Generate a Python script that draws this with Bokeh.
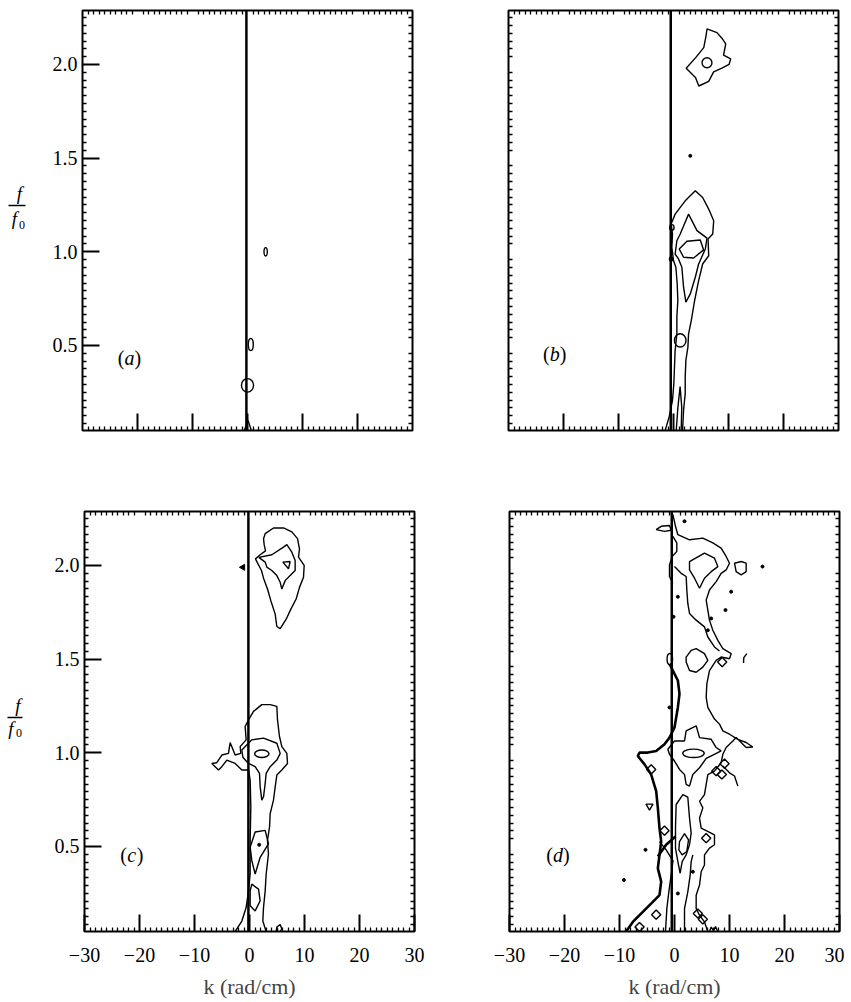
import math
from bokeh.plotting import figure
from bokeh.models import FixedTicker, LinearAxis, Range1d, Span
from bokeh.layouts import column, row
from bokeh.embed import file_html
from bokeh.resources import INLINE
from bokeh.core.properties import value

# ---------------- axes / ticks ----------------
K_RANGE = (-30, 30)
F_RANGE = (0.046, 2.288)
K_MAJOR = [-30, -20, -10, 0, 10, 20, 30]
K_LABELS = ["\u221230", "\u221220", "\u221210", "0", "10", "20", "30"]
K_MAJOR_INNER = [-20, -10, 0, 10, 20]
K_MINOR = [k for k in range(-29, 30) if k % 10 != 0]
F_MAJOR = [0.5, 1.0, 1.5, 2.0]
F_LABELS = ["0.5", "1.0", "1.5", "2.0"]
F_MINOR = [i / 24 for i in range(2, 55) if i % 12 != 0]
X_LABEL = "k (rad/cm)"
PANEL_NAMES = ["a", "b", "c", "d"]
LINE_K = [-0.2, -0.5, -0.2, -0.5]

# ---------------- panel (a) ----------------
A_ELL_K = [3.3, 0.6, 0.0]
A_ELL_F = [1.0, 0.505, 0.287]
A_ELL_W = [0.6, 0.9, 2.2]
A_ELL_H = [0.045, 0.065, 0.072]
A_OPEN_K = [[-0.6, 0.1, 0.7]]
A_OPEN_F = [[0.046, 0.10, 0.046]]

# ---------------- panel (b) ----------------
B_LOOPS_K = [
    [6.1, 7.9, 8.8, 9.5, 9.1, 10.4, 10.1, 8.8, 7.3, 6.4, 4.6, 4.0, 2.3, 4.0, 5.5, 5.9],
    [1.22, 2.74, 4.27, 6.09, 5.79, 4.57, 3.96, 3.05, 2.25, 1.83, 1.52, 0.91, 0.30, 0.61],
    [1.04, 2.44, 4.87, 5.48, 3.66, 1.83],
]
B_LOOPS_F = [
    [2.19, 2.17, 2.14, 2.11, 2.05, 2.03, 2.0, 1.98, 1.96, 1.91, 1.885, 1.93, 1.98, 2.035, 2.09, 2.15],
    [1.095, 1.201, 1.113, 1.073, 1.015, 0.935, 0.864, 0.775, 0.731, 0.811, 0.917, 0.962, 0.988, 1.059],
    [1.015, 1.056, 1.063, 1.010, 0.967, 0.971],
]
B_OPEN_K = [
    [-1.52, -0.79, -0.18, 0.06, 0.18, 0.30, 0.61, 0.61, 0.79, 0.67, 0.43, 0.0, -0.30, -0.18, -0.43,
     0.30, 2.13, 3.96, 5.30, 6.40, 7.31, 7.13, 6.28, 6.40, 5.30, 4.57, 3.84, 3.23, 2.74, 2.62,
     2.25, 2.13, 2.13, 1.83, 1.65],
    [0.5, 0.8, 1.2, 1.5, 1.4],
]
B_OPEN_F = [
    [0.046, 0.119, 0.207, 0.296, 0.385, 0.474, 0.562, 0.651, 0.740, 0.829, 0.917, 0.953, 1.024, 1.095,
     1.148, 1.201, 1.272, 1.326, 1.290, 1.228, 1.166, 1.095, 1.068, 0.979, 0.935, 0.846, 0.740, 0.633,
     0.562, 0.491, 0.420, 0.332, 0.243, 0.154, 0.046],
    [0.046, 0.17, 0.28, 0.17, 0.046],
]
B_ELL_K = [6.09, 1.22, -0.3, -0.43]
B_ELL_F = [2.009, 0.527, 1.13, 0.962]
B_ELL_W = [1.8, 2.1, 0.8, 0.6]
B_ELL_H = [0.053, 0.071, 0.03, 0.022]
B_DOT_K = [3.05]
B_DOT_F = [1.512]

# ---------------- panel (c) ----------------
C_LOOPS_K = [
    [2.85, 4.36, 6.18, 7.70, 8.73, 9.09, 8.91, 9.94, 9.82, 9.09, 8.48, 7.52, 6.67, 5.58, 4.97, 4.67,
     3.88, 3.27, 2.55, 2.18, 1.45, 1.09, 1.94, 2.91, 2.67, 2.55],
    [1.70, 4.06, 6.18, 6.79, 7.70, 8.30, 8.30, 7.39, 6.48, 5.88, 5.58, 4.97, 4.06, 3.15, 2.85],
    [6.06, 7.39, 7.09],
    [-1.39, 0.42, 2.55, 4.97, 5.58, 4.97, 3.76, 3.03, 2.85, 2.55, 2.24, 1.94, 1.82, 1.03, -0.18, -1.21],
    [0.12, 1.03, 2.85, 3.45, 1.94, 1.03, 0.42],
    [0.42, 1.64, 1.94, 1.03, 0.12, 0.12],
]
C_LOOPS_F = [
    [2.170, 2.200, 2.200, 2.179, 2.143, 2.089, 2.044, 2.0, 1.937, 1.883, 1.821, 1.767, 1.713, 1.663,
     1.674, 1.740, 1.812, 1.874, 1.932, 1.973, 2.014, 2.035, 2.057, 2.078, 2.111, 2.143],
    [2.043, 2.057, 2.098, 2.111, 2.071, 2.026, 1.973, 1.946, 1.919, 1.874, 1.910, 1.946, 1.973, 1.991, 2.018],
    [2.018, 2.021, 1.982],
    [1.015, 1.069, 1.078, 1.051, 0.997, 0.961, 0.926, 0.890, 0.836, 0.765, 0.747, 0.818, 0.890, 0.926, 0.943, 0.976],
    [0.496, 0.577, 0.586, 0.514, 0.442, 0.353, 0.424],
    [0.299, 0.272, 0.210, 0.156, 0.183, 0.263],
]
C_OPEN_K = [
    [-2.61, -1.39, -0.61, -0.18, 0.12, 0.12, 0.24, 0.12, -0.18, -1.39, -2.61, -4.12, -5.03, -5.64,
     -6.85, -5.94, -5.03, -3.82, -3.52, -2.61, -1.58, -1.70, -0.61, -0.79, -0.18, 0.73, 2.24, 3.76,
     4.97, 5.09, 5.45, 5.88, 6.79, 6.91, 5.88, 4.97, 4.67, 4.36, 3.76, 3.64, 3.27, 3.45, 3.03, 2.85,
     2.55, 2.42, 3.03],
    [4.85, 4.97, 5.58, 5.88, 5.58],
]
C_OPEN_F = [
    [0.046, 0.102, 0.174, 0.263, 0.353, 0.532, 0.711, 0.854, 0.908, 0.908, 0.943, 0.961, 0.926, 0.908,
     0.943, 0.947, 0.988, 0.997, 1.055, 0.988, 0.997, 1.033, 1.069, 1.140, 1.176, 1.221, 1.257, 1.257,
     1.248, 1.176, 1.087, 1.033, 0.997, 0.943, 0.908, 0.881, 0.818, 0.747, 0.675, 0.603, 0.532, 0.460,
     0.353, 0.263, 0.174, 0.102, 0.046],
    [0.046, 0.070, 0.083, 0.060, 0.046],
]
C_ELL_K = [2.24]
C_ELL_F = [0.995]
C_ELL_W = [2.6]
C_ELL_H = [0.04]
C_TRI_K = [-1.2]
C_TRI_F = [1.99]
C_DOT_K = [1.76]
C_DOT_F = [0.509]

# ---------------- panel (d) ----------------
D_BOLD_K = [
    [-8.79, -7.58, -5.76, -3.94, -2.73, -2.42, -3.03, -2.73, -2.42, -2.73, -3.03, -3.33, -4.24, -5.45,
     -6.67, -6.36, -4.85, -3.33, -1.82, -0.91, 0.0, 0.61, 0.91, 0.61, -0.30, -0.91],
    [-3.03, -1.52, 0.18],
]
D_BOLD_F = [
    [0.046, 0.097, 0.151, 0.204, 0.240, 0.312, 0.383, 0.455, 0.526, 0.598, 0.706, 0.795, 0.884, 0.938,
     0.983, 1.001, 1.001, 1.010, 1.046, 1.081, 1.135, 1.242, 1.314, 1.386, 1.439, 1.475],
    [0.446, 0.509, 0.553],
]
D_OPEN_K = [
    [-0.30, 0.18, 0.61, 2.73, 5.15, 6.97, 8.48, 9.39, 10.0, 9.39, 8.48, 7.58, 6.36, 5.76, 6.06, 6.36,
     6.97, 7.88, 8.79, 10.30, 10.0, 8.48, 7.58, 6.36, 5.88, 5.76, 6.06, 7.27, 8.18, 8.79, 10.0, 11.52,
     13.03, 14.24, 13.03, 12.12, 11.21, 10.61, 9.39, 8.79, 8.48, 7.27, 6.06, 5.76, 5.45, 4.55, 5.15,
     4.55, 4.85, 5.76, 7.27, 7.27, 6.36, 5.45, 5.45, 4.85, 4.55, 3.94, 3.94, 4.55, 5.45, 6.06],
    [0.0, 1.21, 2.12, 2.24, 2.42, 2.73, 3.94, 5.45, 6.06, 7.27, 8.18],
    [-0.30, 0.42, 0.42, -0.42, -0.91, -0.91, -0.30],
    [-1.64, -1.39, -1.03, -0.61, -0.30],
    [1.82, 1.82, 2.42, 2.85, 3.03, 3.33],
    [-2.73, -1.52, -0.18],
    [13.15, 12.6, 12.55],
    [8.79, 10.0, 10.91, 11.52],
    [6.36, 6.67, 7.09, 7.45, 7.88],
]
D_OPEN_F = [
    [2.272, 2.209, 2.164, 2.137, 2.146, 2.120, 2.093, 2.048, 2.012, 1.976, 1.958, 1.914, 1.869, 1.815,
     1.762, 1.708, 1.654, 1.600, 1.556, 1.529, 1.502, 1.511, 1.493, 1.439, 1.368, 1.296, 1.242, 1.180,
     1.153, 1.117, 1.099, 1.072, 1.055, 1.031, 1.028, 1.055, 1.081, 1.063, 1.028, 0.992, 0.947, 0.902,
     0.884, 0.831, 0.777, 0.741, 0.706, 0.652, 0.598, 0.584, 0.562, 0.509, 0.491, 0.455, 0.401, 0.365,
     0.294, 0.240, 0.168, 0.133, 0.097, 0.046],
    [1.994, 1.958, 1.941, 1.869, 1.797, 1.744, 1.708, 1.672, 1.618, 1.565, 1.543],
    [2.155, 2.120, 2.075, 2.048, 2.003, 1.941, 1.905],
    [0.046, 0.168, 0.258, 0.347, 0.419],
    [0.046, 0.168, 0.258, 0.347, 0.419, 0.455],
    [0.526, 0.482, 0.419],
    [1.529, 1.508, 1.479],
    [0.929, 0.893, 0.876, 0.822],
    [0.046, 0.07, 0.05, 0.072, 0.046],
]
D_LOOPS_K = [
    [-3.33, -2.42, -0.91, -0.61, -1.82],
    [2.73, 5.45, 7.27, 7.88, 6.67, 5.45, 4.55, 3.64, 2.73],
    [10.91, 12.12, 13.03, 13.03, 12.12, 11.21],
    [2.12, 3.03, 3.94, 5.45, 6.06, 5.15, 3.94, 2.73, 2.12],
    [1.82, 2.12, 3.94, 4.55, 6.67, 7.58, 8.48, 6.97, 5.76, 4.55, 3.33, 2.73, 2.12, 1.82, 0.91, 0.0, -0.91, -1.21, 0.0],
    [0.30, 1.52, 2.42, 2.73, 3.03, 2.73, 2.12, 1.39, 1.03, 0.61, 0.18, 0.18],
    [0.91, 1.82, 2.55, 2.24, 1.39, 0.79],
]
D_LOOPS_F = [
    [2.191, 2.209, 2.213, 2.188, 2.182],
    [2.021, 2.066, 2.039, 1.994, 1.967, 1.932, 1.878, 1.932, 1.976],
    [2.012, 2.021, 2.012, 1.967, 1.950, 1.967],
    [1.511, 1.547, 1.556, 1.529, 1.493, 1.457, 1.430, 1.439, 1.484],
    [1.063, 1.117, 1.144, 1.081, 1.072, 1.028, 1.010, 0.988, 0.970, 0.920, 0.884, 0.822, 0.831, 0.884,
     0.911, 0.956, 0.992, 1.019, 1.063],
    [0.724, 0.777, 0.763, 0.652, 0.571, 0.509, 0.455, 0.419, 0.357, 0.419, 0.491, 0.598],
    [0.526, 0.568, 0.535, 0.473, 0.455, 0.482],
]
D_ELL_K = [-0.85, 3.45]
D_ELL_F = [1.50, 0.997]
D_ELL_W = [1.0, 3.9]
D_ELL_H = [0.06, 0.045]
D_DIAM_K = [-4.24, -1.82, 5.76, -3.33, 4.24, 5.15, -6.36, 7.58, 8.61, 9.09, 8.67]
D_DIAM_F = [0.911, 0.584, 0.544, 0.136, 0.142, 0.111, 0.070, 0.902, 0.884, 0.942, 1.484]
D_TRI_K = [-4.55]
D_TRI_F = [0.715]
D_DOT_K = [1.82, 10.30, 0.61, -0.18, 6.67, 9.27, 6.06, -0.91, -5.27, -9.21, 0.61, 3.33, 16.0]
D_DOT_F = [2.236, 1.860, 1.833, 1.726, 1.717, 1.762, 1.654, 1.242, 0.482, 0.321, 0.249, 0.365, 1.994]

# ---------------- styling ----------------
SERIF = "Liberation Serif"
TICK_FONT = "20px"
LW = 1.4
LABEL_W = 40     # width of the strip that carries the f/f0 label
FRAME_W, FRAME_H = 330, 420
TOP_BORDERS = (10, 40)       # top row: border above / below frame
BOT_BORDERS = (41, 69)       # bottom row


def style_axis(ax, major_in):
    ax.axis_line_color = None
    ax.major_tick_in = major_in
    ax.major_tick_out = 0
    ax.minor_tick_in = 4
    ax.minor_tick_out = 0
    ax.major_tick_line_color = "black"
    ax.major_tick_line_width = 2
    ax.minor_tick_line_color = "black"
    ax.minor_tick_line_width = 1.3
    ax.major_label_text_font = SERIF
    ax.major_label_text_font_size = TICK_FONT
    ax.major_label_text_color = "black"


def make_panel(idx, left_labels, bottom_labels, bl, br, bt, bb):
    p = figure(frame_width=FRAME_W, frame_height=FRAME_H,
               x_range=Range1d(*K_RANGE), y_range=Range1d(*F_RANGE),
               x_axis_location=None, y_axis_location=None,
               output_backend="svg", toolbar_location=None,
               min_border_left=bl, min_border_right=br,
               min_border_top=bt, min_border_bottom=bb)
    p.grid.grid_line_color = None
    p.outline_line_color = "black"
    p.outline_line_width = 2
    p.background_fill_color = "white"
    p.border_fill_color = "white"

    if bottom_labels:
        bx = LinearAxis(ticker=FixedTicker(ticks=K_MAJOR, minor_ticks=K_MINOR))
        style_axis(bx, 17)
        bx.major_label_overrides = dict(zip(K_MAJOR, K_LABELS))
        bx.major_label_standoff = 16
        bx.axis_label = X_LABEL
        bx.axis_label_text_font = SERIF
        bx.axis_label_text_font_style = "normal"
        bx.axis_label_text_font_size = "22px"
        bx.axis_label_standoff = 9
    else:
        bx = LinearAxis(ticker=FixedTicker(ticks=K_MAJOR_INNER, minor_ticks=K_MINOR))
        style_axis(bx, 17)
        bx.major_label_overrides = {k: "" for k in K_MAJOR_INNER}
        bx.major_label_text_font_size = "0px"
        bx.major_label_standoff = 0
    p.add_layout(bx, "below")

    if left_labels:
        ly = LinearAxis(ticker=FixedTicker(ticks=F_MAJOR, minor_ticks=F_MINOR))
        style_axis(ly, 17)
        ly.major_label_overrides = dict(zip(F_MAJOR, F_LABELS))
        ly.major_label_standoff = 5
    else:
        ly = LinearAxis(ticker=FixedTicker(ticks=[], minor_ticks=F_MINOR))
        style_axis(ly, 0)
        ly.major_label_standoff = 0
    p.add_layout(ly, "left")

    tx = LinearAxis(ticker=FixedTicker(ticks=[], minor_ticks=K_MINOR))
    style_axis(tx, 0)
    tx.major_label_standoff = 0
    p.add_layout(tx, "above")
    ry = LinearAxis(ticker=FixedTicker(ticks=[], minor_ticks=F_MINOR))
    style_axis(ry, 0)
    ry.major_label_standoff = 0
    p.add_layout(ry, "right")

    p.add_layout(Span(location=LINE_K[idx], dimension="height",
                      line_color="black", line_width=2.5))
    return p


def draw_contours(p, loops_k=None, loops_f=None, open_k=None, open_f=None,
                  ell=None, dots=None, width=LW):
    if loops_k:
        p.patches(loops_k, loops_f, fill_color=None, line_color="black", line_width=width)
    if open_k:
        p.multi_line(open_k, open_f, line_color="black", line_width=width)
    if ell:
        ek, ef, ew, eh = ell
        p.ellipse(ek, ef, width=ew, height=eh, fill_color=None,
                  line_color="black", line_width=width)
    if dots:
        p.scatter(dots[0], dots[1], size=3, marker="circle",
                  fill_color="black", line_color="black")


def panel_label(p, k, f, letter):
    common = dict(text_font=value(SERIF), text_font_size=value("20px"),
                  text_baseline="middle", text_color="black")
    p.text([k], [f], text=["("], text_align="right", x_offset=-5, **common)
    p.text([k], [f], text=[letter], text_align="center",
           text_font_style="italic", **common)
    p.text([k], [f], text=[")"], text_align="left", x_offset=5, **common)


def frac_strip(borders, num, bar, den, sub):
    """Narrow axis-less figure sharing the panel's f scale; carries the f/f0 label.
    x is in pixels across the strip, y in f/f0 units."""
    s = figure(frame_width=LABEL_W, frame_height=FRAME_H,
               x_range=Range1d(0, LABEL_W), y_range=Range1d(*F_RANGE),
               x_axis_location=None, y_axis_location=None,
               output_backend="svg", toolbar_location=None,
               min_border_left=0, min_border_right=0,
               min_border_top=borders[0], min_border_bottom=borders[1],
               outline_line_color=None)
    s.grid.grid_line_color = None
    common = dict(text_font=value(SERIF), text_align="center",
                  text_baseline="middle", text_color="black")
    s.text([num[0]], [num[1]], text=["f"], text_font_style="italic",
           text_font_size=value("19px"), **common)
    s.segment([bar[0]], [bar[2]], [bar[1]], [bar[2]], line_color="black", line_width=1.4)
    s.text([den[0]], [den[1]], text=["f"], text_font_style="italic",
           text_font_size=value("19px"), **common)
    s.text([sub[0]], [sub[1]], text=["0"], text_font_size=value("12px"), **common)
    return s


LABEL_POS = [(-21.45, 0.435), (-21.6, 0.457), (-21.4, 0.455), (-21.2, 0.457)]

pa = make_panel(0, True, False, 82 - LABEL_W, 16, *TOP_BORDERS)
pb = make_panel(1, False, False, 80, 5, *TOP_BORDERS)
pc = make_panel(2, True, True, 84 - LABEL_W, 16, *BOT_BORDERS)
pd = make_panel(3, False, True, 79, 5, *BOT_BORDERS)

draw_contours(pa, open_k=A_OPEN_K, open_f=A_OPEN_F,
              ell=(A_ELL_K, A_ELL_F, A_ELL_W, A_ELL_H))
draw_contours(pb, B_LOOPS_K, B_LOOPS_F, B_OPEN_K, B_OPEN_F,
              ell=(B_ELL_K, B_ELL_F, B_ELL_W, B_ELL_H), dots=(B_DOT_K, B_DOT_F))
draw_contours(pc, C_LOOPS_K, C_LOOPS_F, C_OPEN_K, C_OPEN_F,
              ell=(C_ELL_K, C_ELL_F, C_ELL_W, C_ELL_H), dots=(C_DOT_K, C_DOT_F))
pc.scatter(C_TRI_K, C_TRI_F, marker="triangle", angle=math.pi / 2, size=6,
           fill_color="black", line_color="black")
draw_contours(pd, D_LOOPS_K, D_LOOPS_F, D_OPEN_K, D_OPEN_F,
              ell=(D_ELL_K, D_ELL_F, D_ELL_W, D_ELL_H), dots=(D_DOT_K, D_DOT_F))
pd.multi_line(D_BOLD_K, D_BOLD_F, line_color="black", line_width=2.6)
pd.scatter(D_DIAM_K, D_DIAM_F, marker="square", angle=math.pi / 4, size=6.5,
           fill_color=None, line_color="black", line_width=LW)
pd.scatter(D_TRI_K, D_TRI_F, marker="inverted_triangle", size=7,
           fill_color=None, line_color="black", line_width=LW)

for p, name, (k, f) in zip([pa, pb, pc, pd], PANEL_NAMES, LABEL_POS):
    panel_label(p, k, f, name)

strip1 = frac_strip(TOP_BORDERS, (19, 1.310), (8, 25, 1.247), (14, 1.178), (21.5, 1.145))
strip2 = frac_strip(BOT_BORDERS, (17.5, 1.252), (7, 22, 1.188), (10.5, 1.130), (18.5, 1.108))

layout = column(row(strip1, pa, pb), row(strip2, pc, pd))
open("out.html", "w").write(file_html(layout, INLINE, "f-k spectra"))
